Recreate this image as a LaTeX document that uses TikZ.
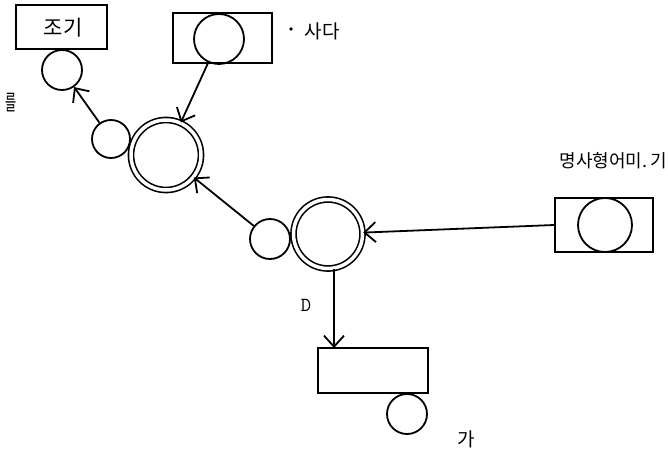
\documentclass[tikz,border=0pt]{standalone}
\usepackage{fontspec}
\usepackage{graphicx}
\newfontfamily\kr{Noto Sans CJK KR}
\usetikzlibrary{arrows.meta}
\begin{document}
\begin{tikzpicture}[x=1pt,y=-1pt,
  line width=1.8pt,
  circ/.style={draw,circle,inner sep=0pt,minimum size=#1},
  dcirc/.style={draw,circle,double,double distance=3.5pt,line width=1.6pt,inner sep=0pt,minimum size=#1},
  boxn/.style={draw,rectangle,inner sep=0pt,minimum width=#1},
  lab/.style={font=\kr\fontsize{19}{19}\selectfont,inner sep=0pt},
  arr/.style={-{Straight Barb[length=11pt,width=20pt,line width=1.8pt]}}]
\useasboundingbox (0,0) rectangle (668,452);
% top-left box
\node[boxn=91pt,minimum height=44pt] (bx1) at (61.5,27) {};
\node[lab,font=\kr\fontsize{21}{21}\selectfont] (t1) at (63,28) {조기};
\node[circ=40pt] (c1) at (62,70) {};
\node[inner sep=0pt] (t2) at (11,103) {\scalebox{0.5}[0.9]{\kr\fontsize{24}{24}\selectfont 를}};
\node[circ=38pt] (c2) at (111,139) {};
\node[dcirc=70pt] (d1) at (166,155) {};
% top box
\node[boxn=99pt,minimum height=50pt] (bx2) at (222.5,38) {};
\node[circ=50pt] (c3) at (219,39) {};
\node[circle,fill,inner sep=1.3pt] (dot1) at (291,29) {};
\node[lab,anchor=west] (t3) at (304,31) {사다};
% second double circle
\node[dcirc=69pt] (d2) at (328,234) {};
\node[circ=40pt] (c4) at (270,239) {};
% right box
\node[boxn=98pt,minimum height=54pt] (bx3) at (604,225) {};
\node[circ=54pt] (c5) at (605,225) {};
\node[lab,anchor=east,font=\kr\fontsize{18}{18}\selectfont] (t4) at (668,161) {명사형어미.\,기};
% D and bottom box
\node[font=\ttfamily\fontsize{20}{20}\selectfont,inner sep=0pt] (tD) at (306,305) {D};
\node[boxn=110pt,minimum height=45pt] (bx4) at (373,370.5) {};
\node[circ=40pt] (c6) at (407,414) {};
\node[lab] (t5) at (466,439) {가};
% connectors
\draw[arr] (c2) -- (c1);
\draw[arr] (c3) -- (d1);
\draw[arr] (c4) -- (d1);
\draw[arr] (bx3.west) -- (d2);
\draw[arr] (d2.south -| 334,0) -- (334,348);
\end{tikzpicture}
\end{document}
